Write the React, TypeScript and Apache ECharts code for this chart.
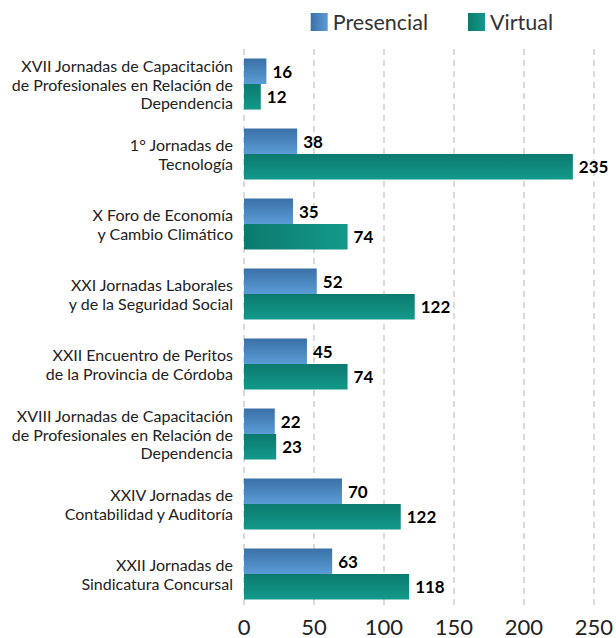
import React, { useEffect, useRef } from "react";
import * as echarts from "echarts";

const categories = [
  "XVII Jornadas de Capacitación\nde Profesionales en Relación de\nDependencia",
  "1° Jornadas de\nTecnología",
  "X Foro de Economía\ny Cambio Climático",
  "XXI Jornadas Laborales\ny de la Seguridad Social",
  "XXII Encuentro de Peritos\nde la Provincia de Córdoba",
  "XVIII Jornadas de Capacitación\nde Profesionales en Relación de\nDependencia",
  "XXIV Jornadas de\nContabilidad y Auditoría",
  "XXII Jornadas de\nSindicatura Concursal",
];
const presencial = [16, 38, 35, 52, 45, 22, 70, 63];
// bar lengths as drawn in the picture
const virtual = [12, 235, 74, 122, 74, 23, 112, 118];
// value labels as printed in the picture
const virtualLabels = ["12", "235", "74", "122", "74", "23", "122", "118"];
const xTicks = { min: 0, max: 250, interval: 50 };

const FONT = "Lato, 'Noto Sans', sans-serif";

export default function App() {
  const ref = useRef<HTMLDivElement>(null);
  useEffect(() => {
    document.body.style.margin = "0";
    const chart = echarts.init(ref.current!, null, { renderer: "svg" });
    const blue = new echarts.graphic.LinearGradient(0, 0, 0, 1, [
      { offset: 0, color: "#3a70a6" },
      { offset: 1, color: "#5b9cd6" },
    ]);
    const blueH = new echarts.graphic.LinearGradient(0, 0, 1, 0, [
      { offset: 0, color: "#3a70a6" },
      { offset: 1, color: "#5b9cd6" },
    ]);
    const teal = new echarts.graphic.LinearGradient(0, 0, 0, 1, [
      { offset: 0, color: "#0c7a6e" },
      { offset: 1, color: "#13998b" },
    ]);
    const tealH = new echarts.graphic.LinearGradient(0, 0, 1, 0, [
      { offset: 0, color: "#0c7a6e" },
      { offset: 1, color: "#13998b" },
    ]);
    const label = {
      show: true,
      position: "right",
      distance: 6,
      color: "#000",
      fontWeight: "bold",
      fontSize: 17,
      fontFamily: FONT,
    };
    chart.setOption({
      animation: false,
      textStyle: { fontFamily: FONT },
      legend: {
        top: 6,
        right: 58,
        icon: "rect",
        itemWidth: 17,
        itemHeight: 18,
        itemGap: 40,
        textStyle: { fontSize: 21.5, color: "#333", fontFamily: FONT },
        data: [
          { name: "Presencial", itemStyle: { color: blueH } },
          { name: "Virtual", itemStyle: { color: tealH } },
        ],
      },
      grid: { left: 244, right: 19, top: 49, bottom: 29, containLabel: false },
      xAxis: {
        type: "value",
        min: xTicks.min,
        max: xTicks.max,
        interval: xTicks.interval,
        axisLine: { show: false },
        axisTick: { show: false },
        axisLabel: { fontSize: 22, color: "#222", margin: 6, fontFamily: FONT },
        splitLine: { show: true, lineStyle: { type: [6, 5], color: "#d0d0d0", width: 1.5 } },
      },
      yAxis: {
        type: "category",
        inverse: true,
        data: categories,
        axisLine: { show: false },
        axisTick: { show: false },
        axisLabel: { fontSize: 16, color: "#222", margin: 11, lineHeight: 18.5, align: "right", fontFamily: FONT },
      },
      series: [
        {
          name: "Presencial",
          type: "bar",
          data: presencial,
          barGap: "0%",
          barCategoryGap: "27%",
          itemStyle: { color: blue },
          label,
        },
        {
          name: "Virtual",
          type: "bar",
          data: virtual.map((v, i) => (i === 2 ? { value: v, itemStyle: { color: tealH } } : v)),
          itemStyle: { color: teal },
          label: { ...label, formatter: (p: any) => virtualLabels[p.dataIndex] },
        },
      ],
    });
    return () => chart.dispose();
  }, []);
  return <div ref={ref} style={{ width: 616, height: 638 }} />;
}
